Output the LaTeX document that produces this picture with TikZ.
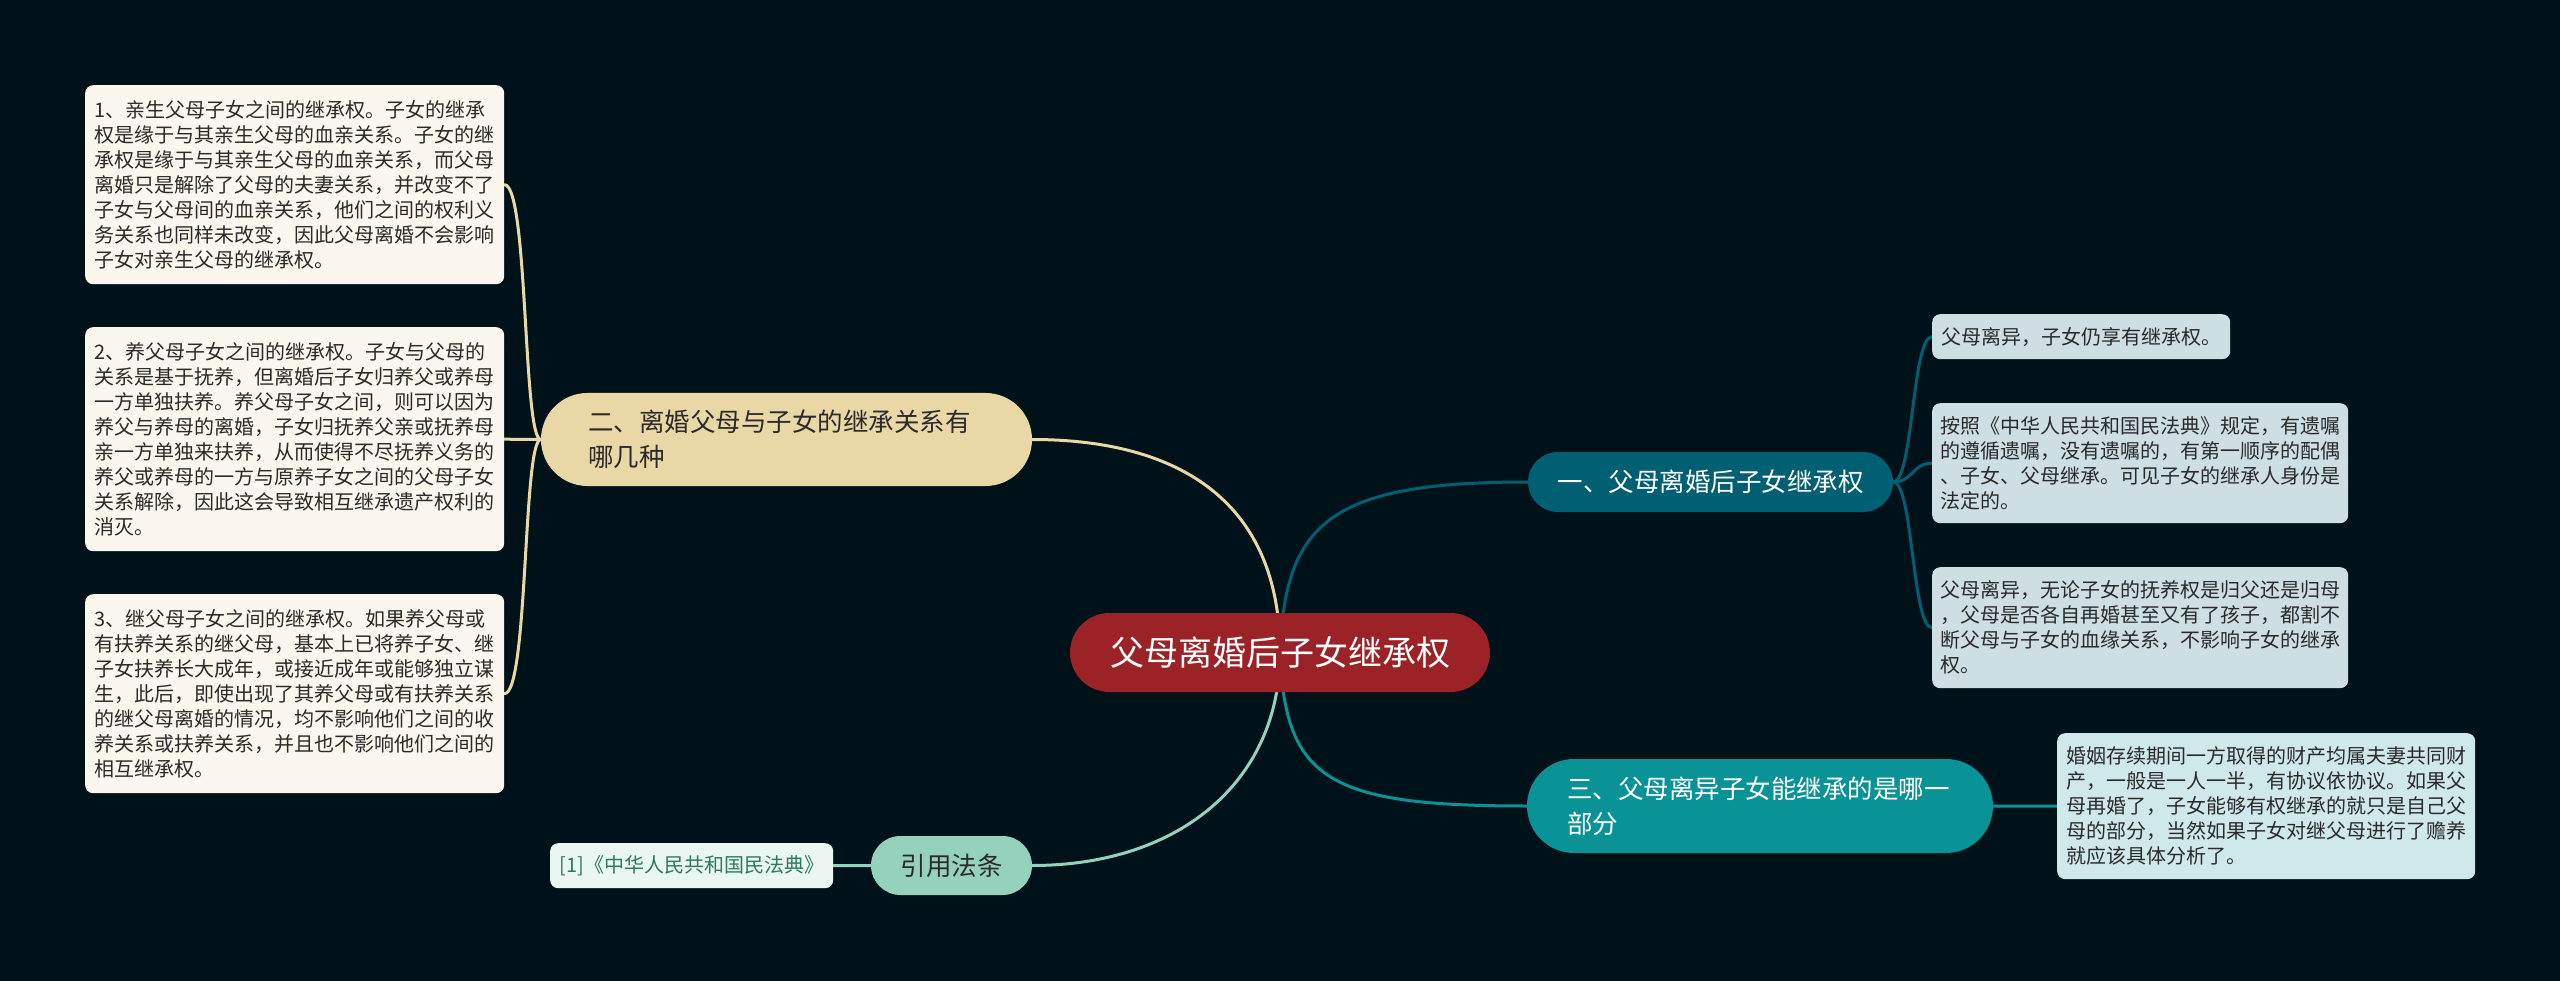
\documentclass[tikz,border=0pt]{standalone}
\usepackage{fontspec}
\setmainfont{Noto Sans CJK SC}
\pgfdeclarelayer{bg}
\pgfsetlayers{bg,main}
\definecolor{bgc}{HTML}{001219}
\definecolor{cred}{HTML}{9B2226}
\definecolor{cbeige}{HTML}{E9D8A6}
\definecolor{cdteal}{HTML}{005F73}
\definecolor{cteal}{HTML}{0A9396}
\definecolor{cmint}{HTML}{94D2BD}
\definecolor{leafl}{HTML}{FBF7EE}
\definecolor{leafr}{HTML}{CDDFE3}
\definecolor{leaft}{HTML}{CFE9EA}
\definecolor{leafm}{HTML}{EAF6F2}
\definecolor{txt}{HTML}{2A2A2A}
\definecolor{citetxt}{HTML}{2C7A5E}
\begin{document}
\begin{tikzpicture}[x=1pt,y=-1pt,
  leaf/.style={rounded corners=8pt, text=txt, anchor=north west, inner ysep=0pt,
    align=left, font=\fontsize{20}{25}\selectfont},
  pill/.style={inner sep=0pt, font=\fontsize{25.5}{35}\selectfont},
  edge/.style={line width=3pt, line cap=round}
]
\useasboundingbox (0,0) rectangle (2560,981);

% center
\node[pill, fill=cred, text=white, minimum width=420pt, minimum height=79pt,
  rounded corners=39.5pt, font=\fontsize{34}{40}\selectfont] (c) at (1280,652.5) {父母离婚后子女继承权};

% main branches
\node[pill, fill=cbeige, text=txt, minimum width=491pt, minimum height=93pt,
  rounded corners=46.5pt, text width=397pt, align=left] (n2) at (786.5,439.5)
  {二、离婚父母与子女的继承关系有\\哪几种};
\node[pill, fill=cdteal, text=white, minimum width=365pt, minimum height=60pt,
  rounded corners=30pt] (n1) at (1710.5,482) {一、父母离婚后子女继承权};
\node[pill, fill=cteal, text=white, minimum width=466pt, minimum height=94pt,
  rounded corners=47pt, text width=386pt, align=left] (n3) at (1760,806)
  {三、父母离异子女能继承的是哪一\\部分};
\node[pill, fill=cmint, text=txt, minimum width=161pt, minimum height=59pt,
  rounded corners=29.5pt] (ref) at (951.5,865.5) {引用法条};

% left leaves
\node[leaf, fill=leafl, inner xsep=9.5pt, text width=400pt, minimum height=199pt] (l1) at (85,85)
{1、亲生父母子女之间的继承权。子女的继承\\
权是缘于与其亲生父母的血亲关系。子女的继\\
承权是缘于与其亲生父母的血亲关系，而父母\\
离婚只是解除了父母的夫妻关系，并改变不了\\
子女与父母间的血亲关系，他们之间的权利义\\
务关系也同样未改变，因此父母离婚不会影响\\
子女对亲生父母的继承权。};
\node[leaf, fill=leafl, inner xsep=9.5pt, text width=400pt, minimum height=224pt] (l2) at (85,327)
{2、养父母子女之间的继承权。子女与父母的\\
关系是基于抚养，但离婚后子女归养父或养母\\
一方单独扶养。养父母子女之间，则可以因为\\
养父与养母的离婚，子女归抚养父亲或抚养母\\
亲一方单独来扶养，从而使得不尽抚养义务的\\
养父或养母的一方与原养子女之间的父母子女\\
关系解除，因此这会导致相互继承遗产权利的\\
消灭。};
\node[leaf, fill=leafl, inner xsep=9.5pt, text width=400pt, minimum height=199pt] (l3) at (85,594)
{3、继父母子女之间的继承权。如果养父母或\\
有扶养关系的继父母，基本上已将养子女、继\\
子女扶养长大成年，或接近成年或能够独立谋\\
生，此后，即使出现了其养父母或有扶养关系\\
的继父母离婚的情况，均不影响他们之间的收\\
养关系或扶养关系，并且也不影响他们之间的\\
相互继承权。};

% right leaves
\node[leaf, fill=leafr, inner xsep=9pt, text width=280pt, minimum height=45pt] (r1) at (1932,314)
{父母离异，子女仍享有继承权。};
\node[leaf, fill=leafr, inner xsep=8pt, text width=400pt, minimum height=120pt] (r2) at (1932,403)
{按照《中华人民共和国民法典》规定，有遗嘱\\
的遵循遗嘱，没有遗嘱的，有第一顺序的配偶\\
、子女、父母继承。可见子女的继承人身份是\\
法定的。};
\node[leaf, fill=leafr, inner xsep=8pt, text width=400pt, minimum height=121pt] (r3) at (1932,567)
{父母离异，无论子女的抚养权是归父还是归母\\
，父母是否各自再婚甚至又有了孩子，都割不\\
断父母与子女的血缘关系，不影响子女的继承\\
权。};
\node[leaf, fill=leaft, inner xsep=9pt, text width=400pt, minimum height=146pt] (r4) at (2057,733)
{婚姻存续期间一方取得的财产均属夫妻共同财\\
产，一般是一人一半，有协议依协议。如果父\\
母再婚了，子女能够有权继承的就只是自己父\\
母的部分，当然如果子女对继父母进行了赡养\\
就应该具体分析了。};

% citation leaf
\node[leaf, fill=leafm, text=citetxt, inner xsep=0pt, align=center, text width=283pt, minimum height=45pt] (cite) at (550,843)
{[1]《中华人民共和国民法典》};

\begin{pgfonlayer}{bg}
  \fill[bgc] (0,0) rectangle (2560,981);
  \draw[edge, cbeige] (c.center) .. controls +(0,-150) and +(148,0) .. (n2.east);
  \draw[edge, cdteal] (c.center) .. controls +(5,-130) and +(-198,0) .. (n1.west);
  \draw[edge, cteal] (c.center) .. controls +(5,128) and +(-198,0) .. (n3.west);
  \draw[edge, cmint] (c.center) .. controls +(0,128) and +(148,0) .. (ref.east);

  \draw[edge, cbeige] (n2.west) .. controls +(-18,0) and +(24,0) .. (l1.east);
  \draw[edge, cbeige] (n2.west) -- (l2.east);
  \draw[edge, cbeige] (n2.west) .. controls +(-18,0) and +(24,0) .. (l3.east);

  \draw[edge, cdteal] (n1.east) .. controls +(20,0) and +(-20,0) .. (r1.west);
  \draw[edge, cdteal] (n1.east) .. controls +(20,0) and +(-20,0) .. (r2.west);
  \draw[edge, cdteal] (n1.east) .. controls +(20,0) and +(-20,0) .. (r3.west);

  \draw[edge, cteal] (n3.east) -- (r4.west);
  \draw[edge, cmint] (ref.west) -- (cite.east);
\end{pgfonlayer}
\end{tikzpicture}
\end{document}
